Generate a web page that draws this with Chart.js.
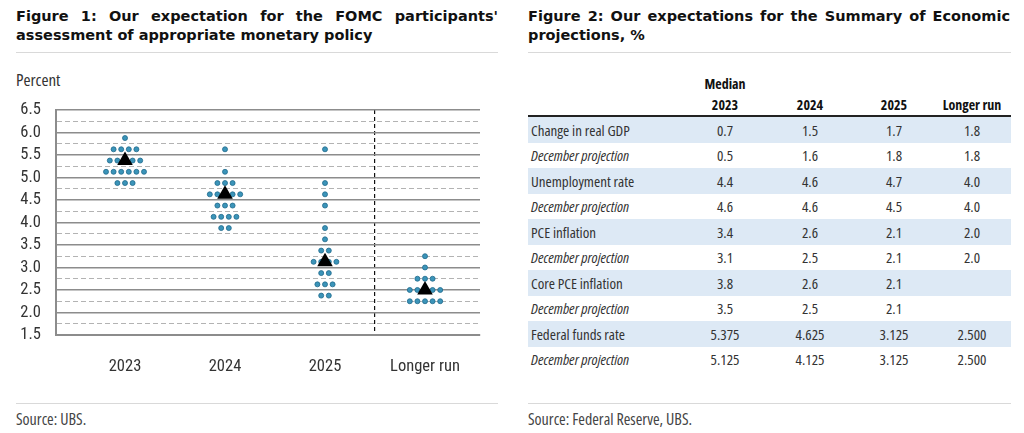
<!DOCTYPE html>
<html>
<head>
<meta charset="utf-8">
<script src="https://cdn.jsdelivr.net/npm/chart.js@4.4.0/dist/chart.umd.min.js"></script>
<style>
  html, body { margin: 0; padding: 0; background: #fff; }
  body { width: 1024px; height: 433px; position: relative; overflow: hidden;
         font-family: "Open Sans", sans-serif; font-stretch: condensed; color: #333; }
  .title { position: absolute; top: 7px; width: 482px; font-family: "DejaVu Sans", sans-serif;
           font-stretch: normal; font-weight: bold; font-size: 14.5px; line-height: 19px; color: #111;
           text-align: justify; text-align-last: left; }
  .rule { position: absolute; height: 1px; background: #d9d9d9; }
  .source { position: absolute; top: 410px; font-size: 16px; line-height: 18px; color: #444; }
  #percent { position: absolute; left: 16px; top: 70px; font-size: 17px; line-height: 20px; color: #333; }
  #grafico { position: absolute; left: 0; top: 85px; }
  #tabela { position: absolute; left: 528px; top: 73px; width: 483px; border-collapse: collapse;
            font-size: 15px; color: #333; table-layout: fixed; }
  #tabela th { font-weight: bold; font-size: 14px; color: #111; text-align: center; padding: 0; height: 21px;
               vertical-align: middle; }
  #tabela tr.anos th { border-bottom: 2px solid #222; }
  #tabela td { padding: 0; height: 25.5px; text-align: center; vertical-align: middle; }
  #tabela td.rotulo { text-align: left; padding-left: 3px; }
  #tabela tr.faixa td { background: #dde9f5; }
  #tabela tr.dez td.rotulo { font-style: italic; }
</style>
</head>
<body>

<div class="title" style="left:16px;">Figure 1: Our expectation for the FOMC participants' assessment of appropriate monetary policy</div>
<div class="title" style="left:528px;">Figure 2: Our expectations for the Summary of Economic projections, %</div>
<div class="rule" style="left:16px; top:52px; width:482px;"></div>
<div class="rule" style="left:528px; top:52px; width:483px;"></div>

<div id="percent">Percent</div>
<canvas id="grafico" width="500" height="300"></canvas>

<table id="tabela"></table>

<div class="rule" style="left:16px; top:403px; width:482px;"></div>
<div class="rule" style="left:528px; top:403px; width:483px;"></div>
<div class="source" style="left:16px;">Source: UBS.</div>
<div class="source" style="left:528px;">Source: Federal Reserve, UBS.</div>

<script>
// Figure 1: dots de cada participante
const categorias = ["2023", "2024", "2025", "Longer run"];
const dots2023 = [5.875, 5.625, 5.625, 5.625, 5.625, 5.375, 5.375, 5.375, 5.375, 5.375,
                  5.125, 5.125, 5.125, 5.125, 5.125, 5.125, 4.875, 4.875, 4.875];
const dots2024 = [5.625, 5.125, 4.875, 4.875, 4.875, 4.625, 4.625, 4.625, 4.625, 4.625,
                  4.375, 4.375, 4.375, 4.125, 4.125, 4.125, 4.125, 3.875, 3.875];
const dots2025 = [5.625, 4.875, 4.625, 4.375, 3.875, 3.625, 3.375, 3.375, 3.125, 3.125,
                  3.125, 3.125, 2.875, 2.875, 2.625, 2.625, 2.625, 2.375, 2.375];
const dotsLonger = [3.25, 3.0, 2.75, 2.75, 2.75, 2.5, 2.5, 2.5, 2.5, 2.5,
                    2.25, 2.25, 2.25, 2.25, 2.25];
const medianas = [5.375, 4.625, 3.125, 2.5];
const eixoYMin = 1.5;
const eixoYMax = 6.5;

// Figure 2: tabela
const linhas = ["Change in real GDP", "December projection", "Unemployment rate", "December projection",
                "PCE inflation", "December projection", "Core PCE inflation", "December projection",
                "Federal funds rate", "December projection"];
const colunas = ["2023", "2024", "2025", "Longer run"];
const col2023 = ["0.7", "0.5", "4.4", "4.6", "3.4", "3.1", "3.8", "3.5", "5.375", "5.125"];
const col2024 = ["1.5", "1.6", "4.6", "4.6", "2.6", "2.5", "2.6", "2.5", "4.625", "4.125"];
const col2025 = ["1.7", "1.8", "4.7", "4.5", "2.1", "2.1", "2.1", "2.1", "3.125", "3.125"];
const colLonger = ["1.8", "1.8", "4.0", "4.0", "2.0", "2.0", "", "", "2.500", "2.500"];

function montarTabela() {
  const larguras = [157, 80, 90, 78, 78];
  let html = "<colgroup>" + larguras.map(w => `<col style="width:${w}px">`).join("") + "</colgroup>";
  html += `<tr><th></th><th>Median</th><th></th><th></th><th></th></tr>`;
  html += `<tr class="anos"><th></th>${colunas.map(c => `<th>${c}</th>`).join("")}</tr>`;
  const valores = [col2023, col2024, col2025, colLonger];
  linhas.forEach((rotulo, i) => {
    const classe = i % 2 === 0 ? "faixa" : "dez";
    html += `<tr class="${classe}"><td class="rotulo">${rotulo}</td>` +
      valores.map(col => `<td>${col[i]}</td>`).join("") + "</tr>";
  });
  document.getElementById("tabela").innerHTML = html;
}

// espalha os dots de mesmo valor lado a lado em torno do centro da categoria
function espalhar(valores, centro) {
  const passo = 0.076;
  const contagem = {};
  valores.forEach(v => { contagem[v] = (contagem[v] || 0) + 1; });
  const pontos = [];
  Object.keys(contagem).forEach(k => {
    const n = contagem[k];
    for (let i = 0; i < n; i++) {
      pontos.push({ x: centro + (i - (n - 1) / 2) * passo, y: parseFloat(k) });
    }
  });
  return pontos;
}

function renderizarGrafico() {
  const ctx = document.getElementById("grafico").getContext("2d");
  const fonteEixo = { family: "'Roboto Condensed', 'Open Sans', sans-serif", size: 16.5 };

  const participantes = [dots2023, dots2024, dots2025, dotsLonger]
    .flatMap((vals, i) => espalhar(vals, i + 1));
  const pontosMediana = medianas.map((v, i) => ({ x: i + 1, y: v }));
  const marcasX = [1, 2, 3, 3.5, 4];
  const ehMeio = v => Math.abs((v * 2) - Math.round(v * 2)) < 1e-6;

  window.grafico = new Chart(ctx, {
    type: "scatter",
    data: {
      datasets: [
        {
          label: "Median",
          data: pontosMediana,
          pointStyle: "triangle",
          pointRadius: 9,
          backgroundColor: "#000",
          borderColor: "#000",
          borderWidth: 0
        },
        {
          label: "Participants",
          data: participantes,
          pointRadius: 2.5,
          backgroundColor: "#3b94b9",
          borderColor: "#1f6a8c",
          borderWidth: 0.8
        }
      ]
    },
    options: {
      responsive: false,
      animation: false,
      layout: { padding: { top: 0, right: 20, left: 0, bottom: 0 } },
      plugins: { legend: { display: false }, tooltip: { enabled: false } },
      scales: {
        x: {
          type: "linear",
          min: 0.31,
          max: 4.55,
          afterBuildTicks: s => { s.ticks = marcasX.map(v => ({ value: v })); },
          afterFit: s => { s.height = 50; },
          ticks: {
            autoSkip: false,
            maxRotation: 0,
            padding: 22,
            color: "#333",
            font: fonteEixo,
            callback: v => (Number.isInteger(v) ? categorias[v - 1] : "")
          },
          grid: {
            drawTicks: false,
            color: c => (c.tick && c.tick.value === 3.5 ? "#111" : "rgba(0,0,0,0)"),
            lineWidth: 1.2
          },
          border: {
            display: true,
            color: "#8c8c8c",
            width: 2,
            dash: c => (c.tick && c.tick.value === 3.5 ? [4, 3] : [])
          }
        },
        y: {
          min: eixoYMin,
          max: eixoYMax,
          afterFit: s => { s.width = 56; },
          ticks: {
            stepSize: 0.25,
            autoSkip: false,
            padding: 15,
            color: "#333",
            font: fonteEixo,
            callback: v => (ehMeio(v) ? v.toFixed(1) : "")
          },
          grid: {
            drawTicks: false,
            color: c => (c.tick && ehMeio(c.tick.value) ? "#8c8c8c" : "#b3b3b3"),
            lineWidth: c => (c.tick && ehMeio(c.tick.value) ? 1.5 : 1)
          },
          border: {
            display: true,
            color: "#8c8c8c",
            width: 2,
            dash: c => (c.tick && !ehMeio(c.tick.value) ? [5, 3] : [])
          }
        }
      }
    }
  });
}

montarTabela();
renderizarGrafico();
</script>
</body>
</html>
